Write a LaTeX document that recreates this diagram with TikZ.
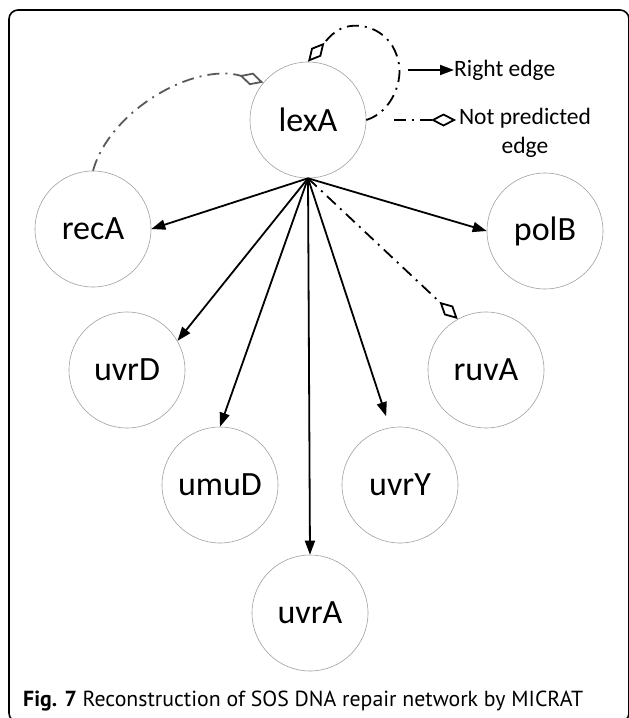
\documentclass[tikz,border=0pt]{standalone}
\usepackage{fontspec}
\setmainfont{Carlito}
\newfontfamily\capfont{PT Sans}
\usetikzlibrary{arrows.meta}
\begin{document}
\begin{tikzpicture}[x=1pt,y=-1pt,
  gene/.style={circle,draw=gray!75,line width=0.6pt,minimum size=116pt,inner sep=0pt,font=\fontsize{34}{34}\selectfont},
  rightedge/.style={line width=1.8pt,-{Triangle[length=14pt,width=10pt]}},
  dashdot/.style={line width=1.8pt,dash pattern=on 12pt off 6pt on 2pt off 6pt},
  notpred/.style={dashdot,-{Diamond[open,length=25pt,width=13pt,line width=1.8pt]}},
  legtext/.style={font=\fontsize{23.5}{29}\selectfont,inner sep=0pt}]
\useasboundingbox (0,0) rectangle (629,718);
\begin{scope}
\clip (0,0) rectangle (629,718);
\draw[line width=1.6pt,rounded corners=9pt] (9,10) rectangle (629,722);
\end{scope}
\node[gene] (lexA) at (308,120) {lexA};
\node[gene] (recA) at (93,229) {recA};
\node[gene] (polB) at (545,231) {polB};
\node[gene] (uvrD) at (127,370) {uvrD};
\node[gene] (ruvA) at (486,370) {ruvA};
\node[gene] (umuD) at (220,485) {umuD};
\node[gene] (uvrY) at (400,485) {uvrY};
\node[gene] (uvrA) at (310,613) {uvrA};
% right edges
\draw[rightedge] (lexA.south) -- (recA.east);
\draw[rightedge] (lexA.south) -- (polB.west);
\draw[rightedge] (lexA.south) -- (uvrD.30);
\draw[rightedge] (lexA.south) -- (umuD.north);
\draw[rightedge] (lexA.south) -- (uvrA.north);
\draw[rightedge,shorten >=12pt] (lexA.south) -- (uvrY.100);
% not predicted edges
\draw[notpred] (lexA.south) -- (ruvA.119);
\draw[notpred,draw=black!65] (recA.north) .. controls (110,110) and (195,62) .. (lexA.140);
\draw[notpred] (lexA.east) .. controls (392,112) and (404,80) .. (398,60) .. controls (392,33) and (365,20) .. (342,28) .. controls (332,34) .. (lexA.north);
% legend
\coordinate (ra) at (408,70);
\node[legtext,anchor=west] (rt) at (454,70) {Right edge};
\draw[rightedge] (ra) -- (rt.west);
\coordinate (na) at (394,120);
\node[legtext,align=center,anchor=north] (nt) at (525,108) {Not predicted\\edge};
\coordinate (nd) at (456,120);
\draw[notpred] (na) -- (nd);
% caption
\node[anchor=base west,inner sep=0pt,font=\capfont\fontsize{21.8}{21.8}\selectfont] (cap) at (23,706) {\textbf{Fig. 7} Reconstruction of SOS DNA repair network by MICRAT};
\end{tikzpicture}
\end{document}
